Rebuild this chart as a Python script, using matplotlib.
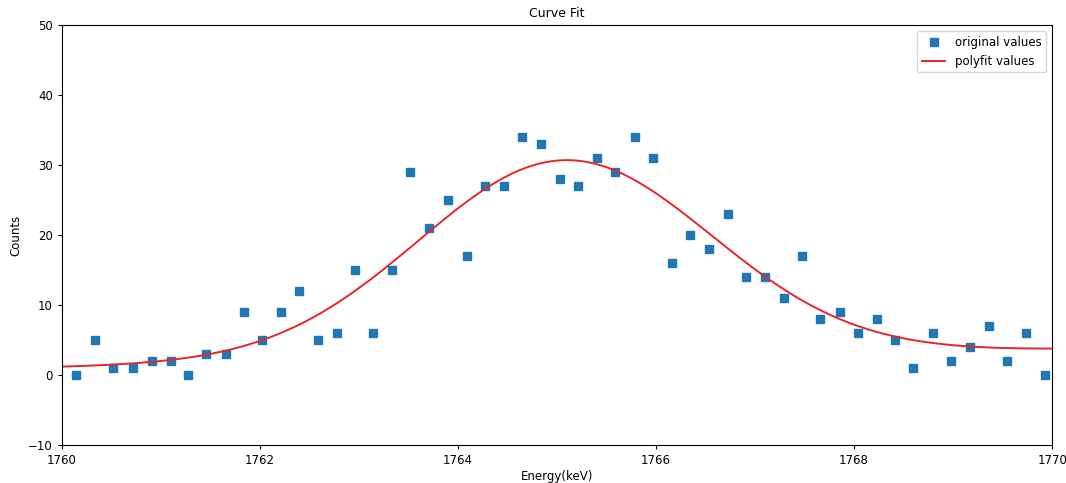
import numpy as np
import matplotlib.pyplot as plt

# measured spectrum (channel energy, counts)
energy = [1760.14, 1760.33, 1760.52, 1760.72, 1760.91, 1761.10, 1761.27, 1761.46,
          1761.66, 1761.84, 1762.02, 1762.21, 1762.39, 1762.59, 1762.78, 1762.96,
          1763.14, 1763.33, 1763.52, 1763.71, 1763.90, 1764.09, 1764.27, 1764.46,
          1764.65, 1764.84, 1765.03, 1765.21, 1765.40, 1765.59, 1765.79, 1765.97,
          1766.16, 1766.34, 1766.53, 1766.73, 1766.91, 1767.10, 1767.29, 1767.47,
          1767.66, 1767.86, 1768.04, 1768.23, 1768.41, 1768.60, 1768.80, 1768.98,
          1769.17, 1769.36, 1769.54, 1769.74, 1769.93]
counts = [0, 5, 1, 1, 2, 2, 0, 3, 3, 9, 5, 9, 12, 5, 6, 15, 6, 15, 29, 21, 25, 17,
          27, 27, 34, 33, 28, 27, 31, 29, 34, 31, 16, 20, 18, 23, 14, 14, 11, 17,
          8, 9, 6, 8, 5, 1, 6, 2, 4, 7, 2, 6, 0]

# fitted gaussian + linear background
amp = 28.3
mu = 1765.08
sigma = 1.48
bg0 = 1.1      # background at 1760
bg_slope = 0.255


def model(x):
    return amp * np.exp(-(x - mu) ** 2 / (2 * sigma ** 2)) + bg0 + bg_slope * (x - 1760)


plt.rcParams['font.size'] = 8.5
fig = plt.figure(figsize=(10.66, 4.83), dpi=100)
ax = fig.add_axes([0.058, 0.079, 0.929, 0.869])

xfit = np.linspace(1760, 1770, 400)
ax.plot(energy, counts, 's', color='#1f77b4', markersize=6.3, label='original values')
ax.plot(xfit, model(xfit), color='#e8262a', linewidth=1.4, label='polyfit values')

ax.set_xlim(1760, 1770)
ax.set_ylim(-10, 50)
ax.set_xticks([1760, 1762, 1764, 1766, 1768, 1770])
ax.set_yticks([-10, 0, 10, 20, 30, 40, 50])
ax.tick_params(length=3)
ax.set_title('Curve Fit', fontsize=9)
ax.set_xlabel('Energy(keV)', labelpad=2)
ax.set_ylabel('Counts', labelpad=4)
ax.legend(loc='upper right', fontsize=8.5)

fig.savefig('out.png', dpi=100)
